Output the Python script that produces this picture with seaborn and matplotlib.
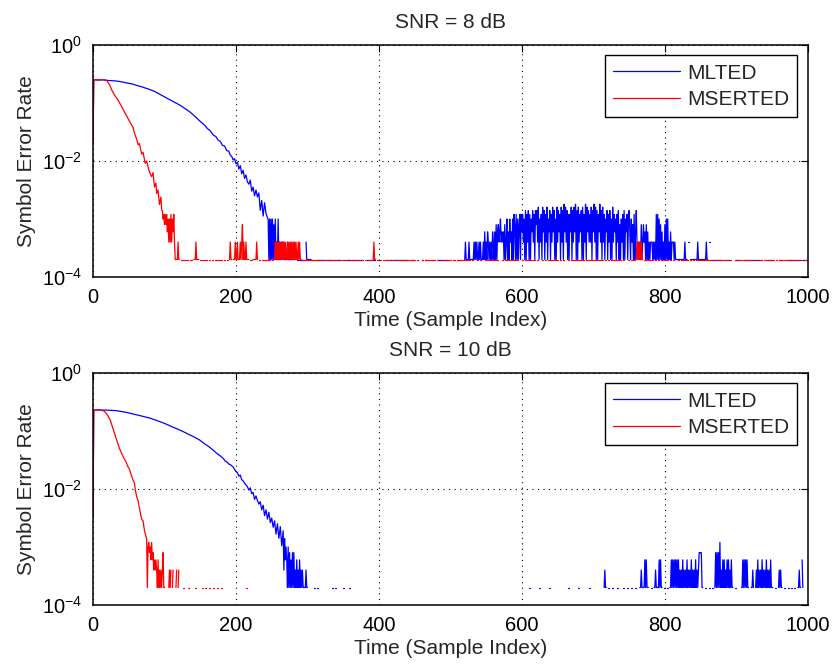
import numpy as np
import pandas as pd
import matplotlib
matplotlib.use("Agg")
import matplotlib.pyplot as plt
import seaborn as sns
from matplotlib.lines import Line2D
from matplotlib.ticker import NullLocator

# ---------------- data ----------------
N_TRIALS = 5000          # SER values are k / N_TRIALS
snr_titles = ["SNR = 8 dB", "SNR = 10 dB"]
series_names = ["MLTED", "MSERTED"]
series_colors = {"MLTED": "#0000ff", "MSERTED": "#ff0000"}
x_ticks = [0, 200, 400, 600, 800, 1000]
y_ticks = [1e-4, 1e-2, 1e0]

# --- SNR = 8 dB, MLTED: smooth head (x, log10 SER) and error-count tail strings
snr8_mlted_head_x = [0, 1, 3, 8, 14, 20, 26, 32, 38, 44, 50, 56, 62, 68, 74, 80, 86, 92, 98,
                     104, 110, 116, 122, 128, 134, 140, 146, 152, 156, 160, 164, 168, 172, 175,
                     178, 181, 184, 187, 190, 192, 194, 196, 198, 200, 202, 204, 206, 208, 210,
                     212, 214, 216, 218, 220, 222, 224, 226, 228, 230, 232, 234, 236, 238, 240,
                     242, 244]
snr8_mlted_head_log = [-1.69, -0.60, -0.60, -0.605, -0.60, -0.61, -0.615, -0.62, -0.63, -0.645,
                       -0.66, -0.675, -0.70, -0.72, -0.745, -0.77, -0.80, -0.84, -0.88, -0.92,
                       -0.96, -1.00, -1.04, -1.09, -1.14, -1.20, -1.27, -1.34, -1.38, -1.44,
                       -1.48, -1.55, -1.58, -1.64, -1.66, -1.73, -1.74, -1.82, -1.83, -1.90,
                       -1.92, -1.98, -1.96, -2.05, -2.02, -2.14, -2.08, -2.22, -2.16, -2.30,
                       -2.24, -2.36, -2.40, -2.33, -2.52, -2.45, -2.60, -2.50, -2.62, -2.55,
                       -2.85, -2.68, -2.95, -2.72, -2.90, -2.98]
snr8_mlted_tail = [
    (245, "5151515141" "5121512121" "2121111211" "1111111110" "1111011111" "1102111111"
          "1011011101" "1101101110" "0110111011" "1011011011" "1101101101" "0111011011"
          "1011101101" "1101011011" "0110110111" "1011011010" "1101101101" "0110111011"
          "1011011101" "1101101011" "0111011011" "1011011101" "1101101101" "1102201011"
          "1011011101" "1100220101" "0110111011" "10110"
          "1211112111" "1112121211" "2121112131" "2132121213" "2131413423" "5232314125"
          "1315231516" "4161514616" "3625171627" "1615372617" "4728152618" "3716281537"
          "1628371518" "2736182719" "3827161638" "1728391718" "2637181629" "1837262817"
          "3928171639" "2718261537" "1627151826" "3516271415" "2617153614" "7315241613"
          "7212121412" "4231413121" "2221212161" "6151413121" "4151512131" "2221211111"
          "1111111121" "1102201111" "1111112111" "1111111121"
          "1022011101" "1101101110" "0110111011" "1011011011" "1101101101" "0111011011"
          "1011101101" "1101011011" "0110110111" "1011011010" "1101101101" "0110111011"
          "1011011101" "1101101011"),
]

# --- SNR = 8 dB, MSERTED
snr8_mserted_head_x = [0, 1, 5, 10, 15, 19, 23, 26, 30, 35, 40, 45, 50, 54, 56, 58, 61, 63, 65,
                       68, 70, 73, 75, 78, 80, 82, 84, 86, 88, 89, 91, 93, 95, 96]
snr8_mserted_head_log = [-1.69, -0.60, -0.60, -0.60, -0.60, -0.61, -0.68, -0.77, -0.86, -0.95,
                         -1.06, -1.18, -1.29, -1.38, -1.42, -1.52, -1.62, -1.72, -1.70, -1.88,
                         -1.85, -2.04, -2.00, -2.15, -2.22, -2.27, -2.20, -2.45, -2.38, -2.56,
                         -2.50, -2.75, -2.62, -2.84]
snr8_mserted_tail = [
    (97, "7564646352" "5262536211" "1121101111" "1101111011" "1110111211" "1101110111"
         "0111011101" "1101111011" "1011101110" "1110121101" "1121121112" "1241211211"
         "1101110111" "1121011101" "1110111011" "1101110121" "2121212121" "2121121212"
         "1212121211" "2121101110" "1101110111"
         "1110111011" "1101110111" "0111011101" "1101111011" "1011101110"
         "1011101110" "1111011101" "1101110111" "0111012110" "1110111011" "1011110111"
         "0111011101" "1101111011" "1110110111" "0111101110" "1101110111" "1011101101"
         "1110111011" "0111011110" "1101101111" "1011110111" "0110111011" "1101110110"
         "1110111011" "0111101101" "1101110111" "1011011101" "1110111011" "0111011110"
         "1101110111" "1011101101" "1110111011" "0111011101" "1101111011" "1011101110"
         "1110110111" "0111011101" "1101110111" "1011101110" "1110111011" "0111011101"
         "1101110111" "1011101101" "1110111011" "0111011110" "1101212121" "2110111011"
         "0111011101" "1101110111" "1011101110" "1110111011" "0111011101" "1101111011"
         "1011101110" "1110110111" "0111011101" "1101110111" "1011101101" "1110111011"
         "0111011110" "1101110111" "1011101110" "1110111011" "0111011101" "1101111011"
         "1011101110" "1110110111" "0111011101" "1101110111" "011"),
]

# --- SNR = 10 dB, MLTED
snr10_mlted_head_x = [0, 1, 3, 8, 14, 20, 26, 33, 40, 47, 56, 64, 72, 80, 88, 96, 103, 110, 118,
                      126, 134, 141, 149, 156, 162, 168, 173, 178, 182, 185, 187, 190, 192, 194,
                      196, 198, 200, 202, 204, 206, 208, 210, 212, 214, 216, 218, 220, 222, 224,
                      226, 228, 230, 232, 234, 236, 238, 240, 242, 244, 246, 248, 250, 252, 254,
                      256, 258, 260, 262, 264, 266]
snr10_mlted_head_log = [-2.48, -0.64, -0.64, -0.635, -0.64, -0.64, -0.645, -0.65, -0.665, -0.68,
                        -0.707, -0.73, -0.755, -0.78, -0.815, -0.85, -0.885, -0.925, -0.965,
                        -1.01, -1.06, -1.10, -1.155, -1.22, -1.27, -1.33, -1.385, -1.43, -1.47,
                        -1.52, -1.53, -1.57, -1.58, -1.60, -1.62, -1.66, -1.70, -1.72, -1.78,
                        -1.76, -1.84, -1.86, -1.90, -1.93, -1.96, -2.02, -1.98, -2.08, -2.06,
                        -2.18, -2.12, -2.20, -2.26, -2.22, -2.36, -2.28, -2.46, -2.36, -2.52,
                        -2.40, -2.58, -2.50, -2.66, -2.55, -2.78, -2.60, -2.85, -2.65, -2.98,
                        -2.72]
snr10_mlted_tail = [
    (267, "2735315141" "3141412131" "2131212111" "1211010000"
          "0011000110" "0001100110" "0000110011" "0011000011" "0001100000" "0110000000"),
    (610, "1100000000" "0000110000" "0000000011" "0000000000" "1100000000" "0000011000"
          "0000000001" "1000000000" "0000110000"
          "0000001100" "0000012110" "0110001100" "0001100011" "0011000110" "0001100011"
          "0000011211" "1131311100" "0110011211" "1131311001" "1001100113" "1313131313"
          "1212131212" "1312121312" "1213121244" "4411001100" "0011001100" "1414141612"
          "1313121313" "1213110011" "0011000113" "1313131100" "0112100121" "3121213121"
          "2131212131" "1100110001" "2121100110" "0011000110" "0110001121" "1031000000"),
]

# --- SNR = 10 dB, MSERTED
snr10_mserted_head_x = [0, 1, 4, 8, 12, 16, 20, 24, 28, 33, 37, 42, 46, 49, 51, 53, 56, 58, 59,
                        61, 63, 65, 68, 70, 72, 75]
snr10_mserted_head_log = [-2.48, -0.64, -0.64, -0.64, -0.645, -0.66, -0.72, -0.81, -0.96, -1.155,
                          -1.30, -1.44, -1.53, -1.62, -1.66, -1.74, -1.85, -1.90, -2.0, -2.13,
                          -2.20, -2.34, -2.52, -2.55, -2.72, -2.86]
snr10_mserted_tail = [
    (76, "1564536342" "3232131212" "1241101010" "1212012010" "1201201000" "1100100110"
         "0011000110" "0001100110" "0110001100" "0011000011" "0001100000"),
    (214, "11"),
    (233, "11"),
]

panels = [
    {"MLTED": (snr8_mlted_head_x, snr8_mlted_head_log, snr8_mlted_tail),
     "MSERTED": (snr8_mserted_head_x, snr8_mserted_head_log, snr8_mserted_tail)},
    {"MLTED": (snr10_mlted_head_x, snr10_mlted_head_log, snr10_mlted_tail),
     "MSERTED": (snr10_mserted_head_x, snr10_mserted_head_log, snr10_mserted_tail)},
]


def build_rows(name, head_x, head_log, tail):
    assert len(head_x) == len(head_log), name
    rows = []
    seg = 0
    for x, lg in zip(head_x, head_log):
        rows.append((name, x, 10.0 ** lg, seg))
    prev_x = head_x[-1]
    for start, s in tail:
        if start != prev_x + 1:
            seg += 1
        for i, c in enumerate(s):
            x = start + i
            k = int(c)
            if k == 0:          # zero errors -> not drawable on a log axis
                seg += 1
            else:
                rows.append((name, x, k / N_TRIALS, seg))
            prev_x = x
    return rows


# ---------------- figure ----------------
sns.set_style("white")
plt.rcParams["font.family"] = ["Liberation Sans", "DejaVu Sans"]
plt.rcParams["mathtext.fontset"] = "custom"
plt.rcParams["mathtext.rm"] = "Liberation Sans"
plt.rcParams["mathtext.it"] = "Liberation Sans:italic"
plt.rcParams["mathtext.bf"] = "Liberation Sans:bold"

FS = 15
fig = plt.figure(figsize=(8.38, 6.67), dpi=100)
axes = [fig.add_axes([0.111, 0.5847, 0.853, 0.3478]),
        fig.add_axes([0.111, 0.0930, 0.853, 0.3478])]

for ax, title, panel in zip(axes, snr_titles, panels):
    rows = []
    for name in series_names:
        hx, hl, tl = panel[name]
        rows += build_rows(name, hx, hl, tl)
    df = pd.DataFrame(rows, columns=["series", "x", "y", "seg"])
    sns.lineplot(data=df, x="x", y="y", hue="series", hue_order=series_names,
                 palette=series_colors, units="seg", estimator=None, sort=False,
                 linewidth=0.9, legend=False, ax=ax)
    ax.set_yscale("log")
    ax.set_xlim(0, 1000)
    ax.set_ylim(1e-4, 1e0)
    ax.set_xticks(x_ticks)
    ax.set_yticks(y_ticks)
    ax.yaxis.set_minor_locator(NullLocator())
    ax.tick_params(direction="in", top=True, right=True, length=5, width=0.8,
                   labelsize=14.5, pad=8, colors="black")
    ax.grid(True, which="major", linestyle=(0, (1, 4)), color="black", linewidth=0.8)
    for sp in ax.spines.values():
        sp.set_color("black")
        sp.set_linewidth(1.1)
    ax.set_title(title, fontsize=FS, pad=12)
    ax.set_xlabel("Time (Sample Index)", fontsize=FS, labelpad=3)
    ax.set_ylabel("Symbol Error Rate", fontsize=FS, labelpad=4)
    handles = [Line2D([], [], color=series_colors[n], linewidth=0.9) for n in series_names]
    leg = ax.legend(handles, series_names, loc="upper right", fontsize=FS,
                    frameon=True, fancybox=False, framealpha=1, edgecolor="black",
                    borderpad=0.4, borderaxespad=0.5, handlelength=3.2,
                    handletextpad=0.35, labelspacing=0.35)
    leg.get_frame().set_linewidth(1.0)

fig.savefig("out.png", dpi=100)
